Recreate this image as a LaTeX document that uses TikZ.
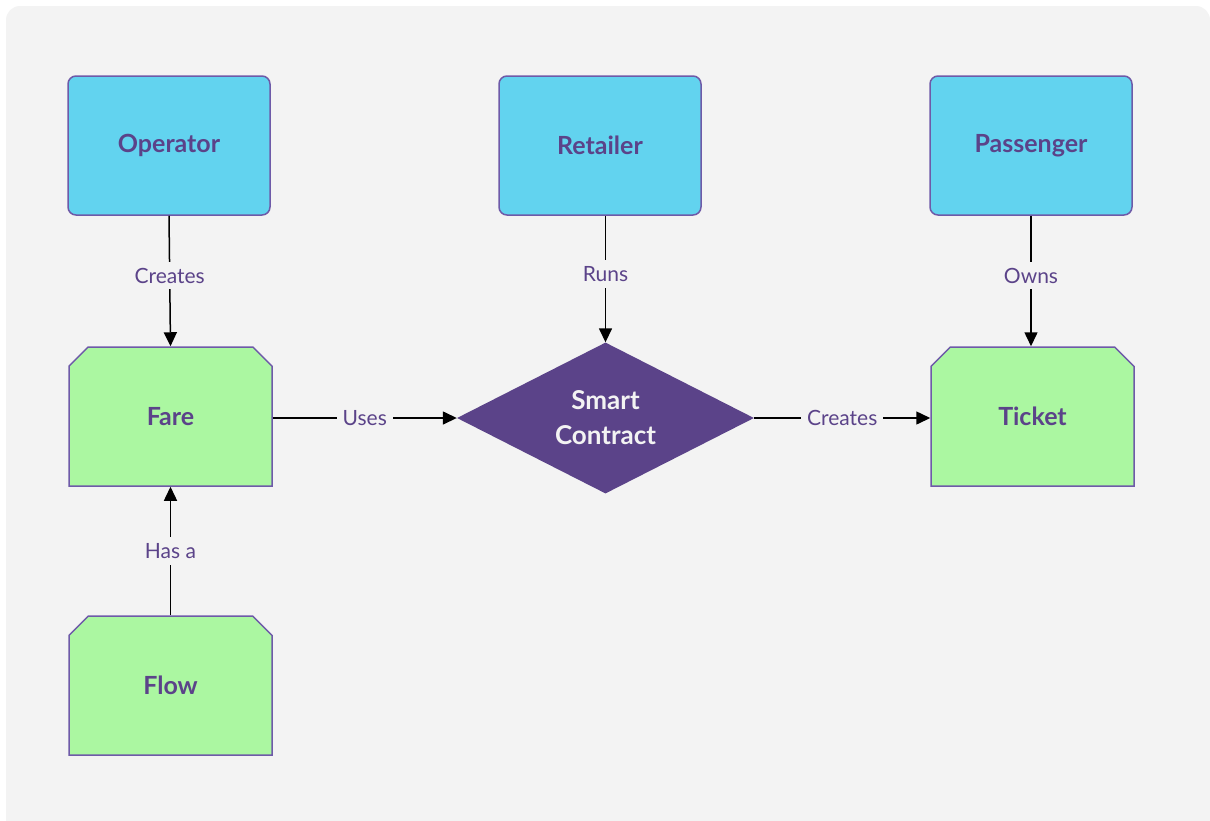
\documentclass[tikz,border=0pt]{standalone}
\usepackage{fontspec}
\setmainfont{Lato}
\usetikzlibrary{shapes.geometric,shapes.misc,arrows.meta}
\definecolor{bg}{HTML}{F3F3F3}
\definecolor{bluebox}{HTML}{62D3EF}
\definecolor{greenbox}{HTML}{ABF7A1}
\definecolor{purp}{HTML}{5B4389}
\definecolor{edgep}{HTML}{6E5AA8}
\tikzset{
  actor/.style={draw=edgep, line width=1.5pt, fill=bluebox, rounded corners=8pt,
    minimum width=202pt, minimum height=139pt, inner sep=0pt,
    font=\bfseries\fontsize{25}{28}\selectfont, text=purp},
  entity/.style={chamfered rectangle, chamfered rectangle corners={north west,north east},
    chamfered rectangle xsep=10pt, chamfered rectangle ysep=10pt,
    draw=edgep, line width=1.5pt, fill=greenbox,
    minimum width=203pt, minimum height=139pt, inner sep=0pt,
    font=\bfseries\fontsize{25}{28}\selectfont, text=purp},
  contract/.style={diamond, fill=purp, draw=none, aspect=1.97,
    minimum width=297pt, minimum height=151pt, inner sep=0pt,
    font=\bfseries\fontsize{26}{35}\selectfont, text=bg, align=center},
  conn/.style={line width=1.5pt, draw=black, -{Triangle[length=14pt,width=13pt]}},
  lbl/.style={fill=bg, text=purp, font=\fontsize{21}{24}\selectfont, inner sep=6pt}
}
\begin{document}
\begin{tikzpicture}[x=1pt,y=-1pt]
\useasboundingbox (0,0) rectangle (1210,820);
\fill[bg, rounded corners=14pt] (6,6) rectangle (1210,840);
\node[actor] (op) at (169,145.5) {Operator};
\node[actor] (ret) at (600,145.5) {Retailer};
\node[actor] (pas) at (1031,145.5) {Passenger};
\node[entity] (fare) at (170.5,416.5) {Fare};
\node[entity] (ticket) at (1032.5,416.5) {Ticket};
\node[entity] (flow) at (170.5,685.5) {Flow};
\node[contract] (sc) at (605.5,418) {Smart\\Contract};
\draw[conn] (op.south) -- node[lbl, pos=0.46]{Creates} (fare.north);
\draw[conn] (ret.south -| sc.north) -- node[lbl, pos=0.46]{Runs} (sc.north);
\draw[conn] (pas.south) -- node[lbl, pos=0.46]{Owns} (ticket.north -| pas.south);
\draw[conn] (flow.north) -- node[lbl]{Has a} (fare.south);
\draw[conn] (fare.east |- sc.west) -- node[lbl]{Uses} (sc.west);
\draw[conn] (sc.east) -- node[lbl]{Creates} (ticket.west |- sc.east);
\end{tikzpicture}
\end{document}
